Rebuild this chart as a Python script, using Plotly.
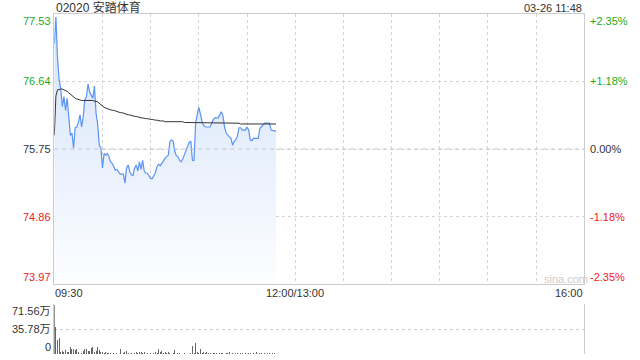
import plotly.graph_objects as go

# ---------------- data ----------------
title_text = "02020 安踏体育"
stamp_text = "03-26 11:48"
prev_close = 75.75

prices = [
    77.14, 77.49, 76.95, 76.66, 76.55, 76.31, 76.44, 76.26, 76.42, 76.22, 75.93, 75.96, 75.76, 76.03, 76.04,
    76.10,
    76.20, 76.04, 76.17, 76.40, 76.44, 76.61, 76.50, 76.46, 76.42, 76.58, 76.22, 76.08, 75.80, 75.76, 75.50,
    75.69, 75.67, 75.69, 75.65, 75.58, 75.56, 75.52, 75.47, 75.48, 75.44, 75.42,
    75.42,
    75.42, 75.30, 75.50, 75.54, 75.45, 75.41, 75.40, 75.50, 75.54, 75.46, 75.58, 75.48, 75.60, 75.46, 75.43,
    75.43, 75.40, 75.36, 75.36, 75.41, 75.44, 75.52, 75.55, 75.53, 75.57, 75.59, 75.63,
    75.65,
    75.67, 75.85, 75.87, 75.85, 75.72, 75.66, 75.65, 75.60, 75.58, 75.62, 75.67, 75.73, 75.79, 75.84, 75.85,
    75.60, 75.60, 76.10, 76.20, 76.30, 76.21, 76.11, 76.06, 76.04, 76.04,
    76.04,
    76.04, 76.09, 76.14, 76.16, 76.16, 76.16, 76.20, 76.24, 76.19, 76.04, 75.96, 75.93, 75.91, 75.89, 75.80,
    75.85, 75.87, 75.92, 76.03, 76.03, 76.00, 76.00, 76.00, 76.04, 76.00, 75.87, 75.86, 75.89, 75.89,
    75.89,
    75.89, 76.02, 76.04, 76.07, 76.09, 76.09, 76.09, 76.09, 76.00, 75.99, 75.99, 75.99,
]

avg_prices = [
    75.93, 76.45, 76.53, 76.54, 76.54, 76.54, 76.53, 76.53, 76.51, 76.49,
    76.47, 76.45, 76.43, 76.42, 76.41, 76.40, 76.40, 76.39, 76.39, 76.39,
    76.39, 76.39, 76.39, 76.39, 76.39, 76.38, 76.38, 76.37, 76.35, 76.33,
    76.31, 76.30, 76.29, 76.28, 76.27, 76.27, 76.26, 76.26, 76.25, 76.25,
    76.24,
    76.23, 76.23, 76.22, 76.21, 76.21, 76.20, 76.20, 76.19, 76.19, 76.18,
    76.18, 76.17, 76.17, 76.16, 76.16, 76.15, 76.15, 76.15, 76.14, 76.14,
    76.14, 76.13, 76.13, 76.13, 76.12, 76.12, 76.12, 76.12, 76.11, 76.11,
    76.11, 76.11, 76.11, 76.11, 76.11, 76.11, 76.11, 76.11, 76.11, 76.11,
    76.10, 76.10, 76.10, 76.10, 76.10, 76.10, 76.10, 76.10, 76.10, 76.10,
    76.10, 76.10, 76.09, 76.09, 76.09, 76.09, 76.09, 76.09, 76.09, 76.09,
    76.09, 76.09, 76.09, 76.09, 76.09, 76.09, 76.09, 76.09, 76.09, 76.09,
    76.09, 76.09, 76.09, 76.09, 76.09, 76.08, 76.08, 76.08, 76.08, 76.08,
    76.08, 76.08, 76.08, 76.08, 76.08, 76.08, 76.08, 76.08, 76.08, 76.08,
    76.08, 76.08, 76.08, 76.08, 76.08, 76.08, 76.08, 76.08,
]

volumes_wan = [
    70.6, 39.5, 20.5, 23.0, 4, 5, 3, 6, 4, 3,
    10, 8, 7, 6, 7, 3, 4, 2, 5, 8,
    7, 5, 5, 9, 10, 4, 5, 11, 6, 3,
    4, 2, 3, 2, 1.5, 2, 1, 2, 1, 1.5,
    1, 8, 1, 2, 3, 5, 2, 1, 1.5, 2,
    2, 3, 2, 3, 4, 2, 3, 1, 1.5, 1,
    2, 1, 2, 3, 2, 7.5, 3, 5, 2, 3,
    1.5, 3, 2, 1, 2, 6, 1, 2, 1.5, 1,
    1, 1.5, 2, 1, 1, 2, 12, 2, 16.6, 3,
    1.5, 7.6, 2, 3, 2, 3, 1.5, 2, 1, 2,
    1.5, 2, 1, 2, 1.5, 2.5, 1, 2, 1.5, 3,
    1, 2, 1, 1.5, 2, 1, 2, 1.5, 1, 2,
    1, 1.5, 2, 1, 2, 1, 3, 1, 2, 1.5,
    1, 2, 1, 1.5, 2, 1, 1.5, 2, 1,
]

minutes = list(range(len(prices)))  # minutes since 09:30 (lunch break removed)

price_ticks = [77.53, 76.64, 75.75, 74.86, 73.97]
price_tick_text = ["77.53", "76.64", "75.75", "74.86", "73.97"]
pct_tick_text = ["+2.35%", "+1.18%", "0.00%", "-1.18%", "-2.35%"]
tick_colors = ["#22aa22", "#22aa22", "#333333", "#ee2222", "#ee2222"]

vol_ticks = [71.56, 35.78, 0]
vol_tick_text = ["71.56万", "35.78万", "0"]

time_ticks = [0, 150, 330]
time_tick_text = ["09:30", "12:00/13:00", "16:00"]
grid_minutes = [30, 60, 90, 120, 150, 180, 210, 240, 270, 300]

# ---------------- figure ----------------
FONT = "Arial, Liberation Sans, Noto Sans CJK SC, sans-serif"
W, H = 640, 360
x0p, x1p = 54.3 / W, 584.3 / W
main_dom = [1 - 284 / H, 1 - 14 / H]
vol_dom = [1 - 354.3 / H, 1 - 304.3 / H]
XR = [0, 330]
YR = [price_ticks[-1], price_ticks[0]]

fig = go.Figure()

# price area with vertical gradient
fig.add_trace(go.Scatter(
    x=minutes, y=prices, mode="lines",
    line=dict(color="#5a94f2", width=1.2),
    fill="tozeroy",
    fillgradient=dict(type="vertical", start=YR[0], stop=YR[1],
                      colorscale=[[0, "#fcfdff"], [1, "#d3e2fa"]]),
    xaxis="x", yaxis="y", hoverinfo="skip", showlegend=False,
))
# previous close dashed line
fig.add_trace(go.Scatter(
    x=XR, y=[prev_close, prev_close], mode="lines",
    line=dict(color="#c4c4c4", width=1, dash="4px,4px"),
    xaxis="x", yaxis="y", hoverinfo="skip", showlegend=False,
))
# average price line
fig.add_trace(go.Scatter(
    x=minutes, y=avg_prices, mode="lines",
    line=dict(color="#333333", width=1),
    xaxis="x", yaxis="y", hoverinfo="skip", showlegend=False,
))
# volume bars
fig.add_trace(go.Bar(
    x=minutes, y=volumes_wan, marker=dict(color="#666666", line=dict(width=0)),
    width=0.6, xaxis="x2", yaxis="y2", hoverinfo="skip", showlegend=False,
))

fig.update_layout(
    width=W, height=H, margin=dict(l=0, r=0, t=0, b=0),
    paper_bgcolor="white", plot_bgcolor="rgba(0,0,0,0)",
    font=dict(family=FONT, size=11, color="#333333"),
    bargap=0,
    xaxis=dict(domain=[x0p, x1p], range=XR, showticklabels=False,
               tickvals=grid_minutes, showgrid=True, gridcolor="#d4d4d4",
               griddash="dot", gridwidth=1, zeroline=False,
               showline=True, linecolor="#cccccc", linewidth=1, mirror=True,
               ticks="", fixedrange=True),
    yaxis=dict(domain=main_dom, range=YR, showticklabels=False,
               tickvals=price_ticks[1:-1], showgrid=True, gridcolor="#d4d4d4",
               griddash="dot", gridwidth=1, zeroline=False,
               showline=True, linecolor="#cccccc", linewidth=1, mirror=True,
               ticks="", fixedrange=True),
    xaxis2=dict(domain=[x0p, x1p], range=XR, showticklabels=False,
                showgrid=False, zeroline=False, anchor="y2",
                showline=False, ticks="", fixedrange=True),
    yaxis2=dict(domain=vol_dom, range=[0, vol_ticks[0]], showticklabels=False,
                tickvals=vol_ticks, showgrid=True, gridcolor="#cccccc",
                griddash="dot", gridwidth=1, zeroline=False, anchor="x2",
                showline=True, linecolor="#cccccc", linewidth=1, mirror=True,
                ticks="", fixedrange=True),
)

ann = []
# title and timestamp
ann.append(dict(text=title_text, x=x0p, y=1 - 7.5 / H, xref="paper", yref="paper",
                xanchor="left", yanchor="middle", showarrow=False,
                font=dict(size=12, color="#333333")))
ann.append(dict(text=stamp_text, x=x1p, y=1 - 7.5 / H, xref="paper", yref="paper",
                xanchor="right", yanchor="middle", showarrow=False,
                font=dict(size=11, color="#333333")))
# price / percent labels
for i, (v, t, p, c) in enumerate(zip(price_ticks, price_tick_text, pct_tick_text, tick_colors)):
    ya = "middle"
    if i == 0:
        ya = "top"
    elif i == len(price_ticks) - 1:
        ya = "bottom"
    ann.append(dict(text=t, x=52 / W, y=v, xref="paper", yref="y",
                    xanchor="right", yanchor=ya, showarrow=False,
                    font=dict(size=11, color=c), borderpad=0))
    ann.append(dict(text=p, x=589 / W, y=v, xref="paper", yref="y",
                    xanchor="left", yanchor=ya, showarrow=False,
                    font=dict(size=11, color=c), borderpad=0))
# time labels
for v, t in zip(time_ticks, time_tick_text):
    xa = "center"
    if v == time_ticks[0]:
        xa = "left"
    elif v == time_ticks[-1]:
        xa = "right"
    ann.append(dict(text=t, x=v, y=1 - 293 / H, xref="x", yref="paper",
                    xanchor=xa, yanchor="middle", showarrow=False,
                    font=dict(size=11, color="#333333"), borderpad=0))
# volume labels
for i, (v, t) in enumerate(zip(vol_ticks, vol_tick_text)):
    ya = "middle"
    if i == 0:
        ya = "top"
    elif i == len(vol_ticks) - 1:
        ya = "bottom"
    ann.append(dict(text=t, x=52 / W, y=v, xref="paper", yref="y2",
                    xanchor="right", yanchor=ya, showarrow=False,
                    font=dict(size=11, color="#333333"), borderpad=0))
# watermark
ann.append(dict(text="sina.com", x=566 / W, y=1 - 279 / H, xref="paper", yref="paper",
                xanchor="center", yanchor="middle", showarrow=False,
                font=dict(size=11, color="#cccccc")))

fig.update_layout(annotations=ann)
fig.write_html("out.html", config={"displayModeBar": False, "staticPlot": True})
